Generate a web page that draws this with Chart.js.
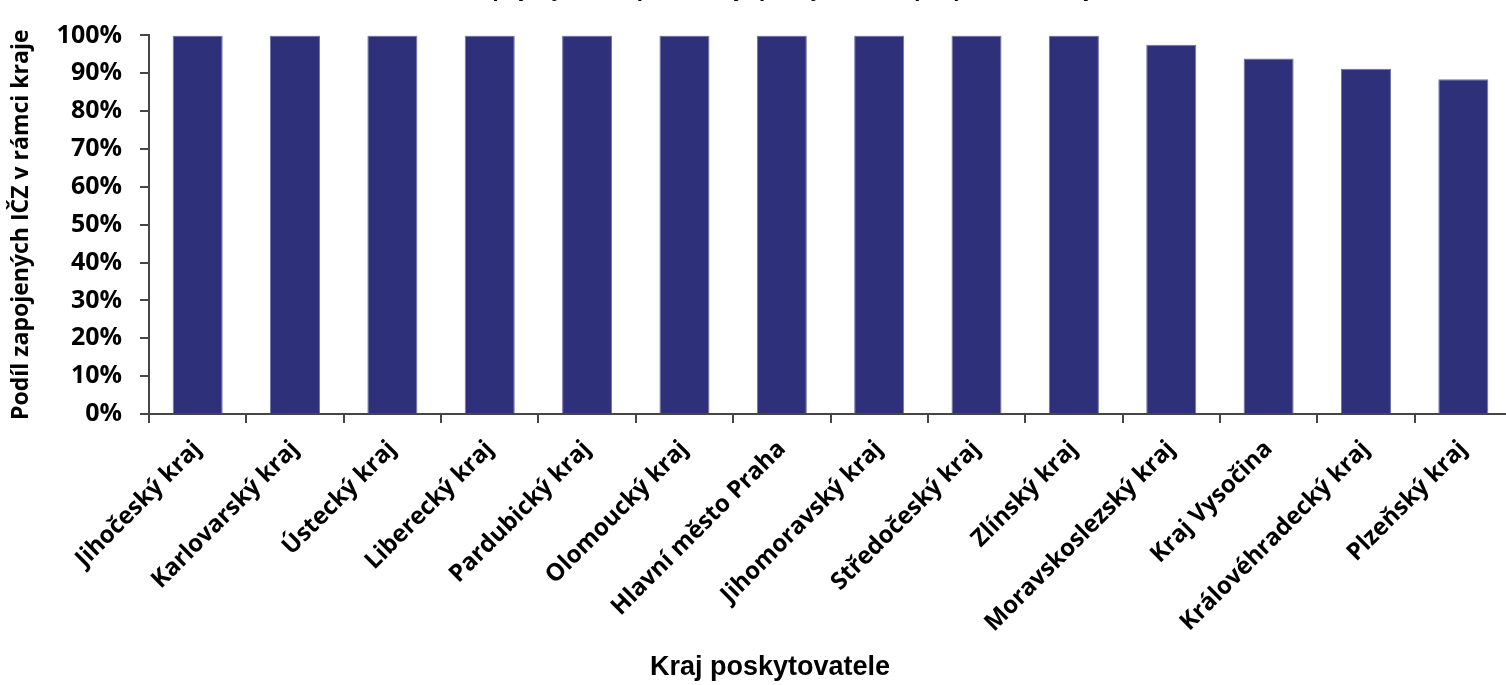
<!DOCTYPE html>
<html>
<head>
<meta charset="utf-8">
<script src="https://cdn.jsdelivr.net/npm/chart.js@4/dist/chart.umd.min.js"></script>
<style>
  html, body { margin: 0; padding: 0; background: #fff; overflow: hidden; }
  #wrap { position: relative; width: 1506px; height: 685px; overflow: hidden; }
  #chart { position: absolute; left: 0; top: -23px; }
</style>
</head>
<body>
<div id="wrap"><canvas id="chart" width="1520" height="708"></canvas></div>
<script>
const regions = [
  "Jihočeský kraj", "Karlovarský kraj", "Ústecký kraj", "Liberecký kraj",
  "Pardubický kraj", "Olomoucký kraj", "Hlavní město Praha", "Jihomoravský kraj",
  "Středočeský kraj", "Zlínský kraj", "Moravskoslezský kraj", "Kraj Vysočina",
  "Královéhradecký kraj", "Plzeňský kraj"
];
const shares = [100, 100, 100, 100, 100, 100, 100, 100, 100, 100, 97.5, 93.9, 91.2, 88.4];

const chartTitle = "Podíl zapojených IČZ podle kraje poskytovatele (IČZ) v rámci kraje";
const xTitle = "Kraj poskytovatele";
const yTitle = "Podíl zapojených IČZ v rámci kraje";

const axisColor = "#464646";
const shift = 23; // canvas is moved up so the title is cut off like in the source

// x axis title is drawn by hand so it can sit where the original has it
const xTitlePlugin = {
  id: "xTitle",
  afterDraw(chart) {
    const ctx = chart.ctx;
    ctx.save();
    ctx.font = "bold 27px 'Liberation Sans', Arial, sans-serif";
    ctx.fillStyle = "#000";
    ctx.textAlign = "center";
    ctx.textBaseline = "middle";
    ctx.fillText(xTitle, 770, 668 + shift);
    ctx.restore();
  }
};

new Chart(document.getElementById("chart"), {
  type: "bar",
  data: {
    labels: regions,
    datasets: [{
      data: shares,
      backgroundColor: "#2e3179",
      borderColor: "#6f72a8",
      borderWidth: 1,
      categoryPercentage: 1,
      barPercentage: 0.514
    }]
  },
  options: {
    responsive: false,
    animation: false,
    layout: { padding: { left: 0, right: 8, top: 0, bottom: 0 } },
    plugins: {
      legend: { display: false },
      tooltip: { enabled: false },
      title: {
        display: true,
        text: chartTitle,
        color: "#000",
        font: { family: "'Liberation Sans', Arial, sans-serif", size: 22, weight: "bold" },
        padding: { top: 0, bottom: 32 }
      }
    },
    scales: {
      x: {
        afterFit: (s) => { s.height = 271; },
        border: { color: axisColor, width: 2 },
        grid: { drawOnChartArea: false, drawTicks: true, tickLength: 9, color: axisColor, lineWidth: 2 },
        ticks: {
          color: "#000",
          minRotation: 45,
          maxRotation: 45,
          padding: 12,
          font: { family: "'Open Sans', sans-serif", size: 24, weight: "bold" }
        }
      },
      y: {
        min: 0,
        max: 100,
        afterFit: (s) => { s.width = 149; },
        border: { color: axisColor, width: 2 },
        grid: { drawOnChartArea: false, drawTicks: true, tickLength: 9, color: axisColor, lineWidth: 2 },
        ticks: {
          stepSize: 10,
          color: "#000",
          padding: 18,
          callback: (v) => v + "%",
          font: { family: "'Open Sans', sans-serif", size: 25, weight: "bold" }
        },
        title: {
          display: true,
          text: yTitle,
          color: "#000",
          padding: { top: 8, bottom: 0 },
          font: { family: "'Open Sans', sans-serif", size: 23, weight: "bold" }
        }
      }
    }
  },
  plugins: [xTitlePlugin]
});
</script>
</body>
</html>
